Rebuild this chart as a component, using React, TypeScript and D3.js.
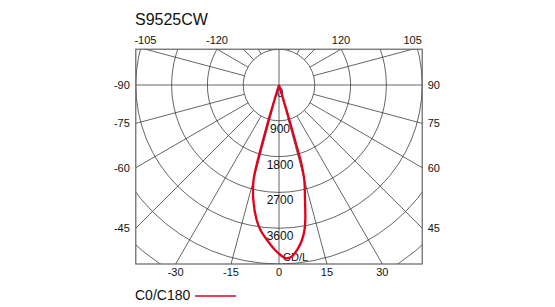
import React from "react";
import * as d3 from "d3";

const TITLE = "S9525CW";
const ringValues = [0, 900, 1800, 2700, 3600];
const unitLabel = "CD/L";
const legendLabel = "C0/C180";
const angleLabels = [-120, -105, -90, -75, -60, -45, -30, -15, 0, 15, 30, 45, 60, 75, 90, 105, 120];
// C0/C180 curve, in drawing order (apex -> left flank -> bottom -> right flank -> apex)
const curveAngles = [0, -16.8, -16.3, -16, -15.7, -15, -12.6, -9.4, -7.27, -4.43, -1.39, 0.51, 2.31, 4.16, 6.23, 8.44, 9.97, 11.02, 12.74, 14.9, 15.9, 16.1, 16.3, 16.6, 0];
const curveValues = [0, 750, 1180, 1610, 2050, 2470, 2960, 3440, 3675, 3909, 4149, 4274, 4360, 4331, 4173, 3939, 3701, 3458, 2964, 2470, 2050, 1610, 1180, 740, 0];

const W = 555;
const H = 307;
const cx = 279;
const cy = 85;
const step = 35.8;
const left = cx - 4 * step;
const right = cx + 4 * step;
const top = cy - step;
const bottom = cy + 5 * step;

const rScale = d3.scaleLinear().domain([0, 900]).range([0, step]);
const FONT = "'Liberation Sans', Arial, Helvetica, sans-serif";
const GRID = "#333";

function pt(gDeg: number, r: number): [number, number] {
  const a = (gDeg * Math.PI) / 180;
  return [cx + r * Math.sin(a), cy + r * Math.cos(a)];
}

export default function App() {
  const rings = d3.range(1, 7).map((k) => rScale(k * 900));
  const radials = d3.range(0, 360, 15).map((deg) => {
    const full = deg % 90 === 0 || deg === 15 || deg === 345;
    const r0 = full ? 0 : rScale(900);
    const p0 = pt(deg, r0);
    const p1 = pt(deg, 400);
    return { deg, p0, p1 };
  });

  const labelPos = angleLabels.map((g) => {
    const a = (g * Math.PI) / 180;
    const dx = Math.sin(a);
    const dy = Math.cos(a);
    const tx = dx > 1e-9 ? (right - cx) / dx : dx < -1e-9 ? (left - cx) / dx : Infinity;
    const ty = dy > 1e-9 ? (bottom - cy) / dy : dy < -1e-9 ? (top - cy) / dy : Infinity;
    if (tx < ty) {
      const y = cy + tx * dy;
      if (dx > 0) return { g, x: right + 5.5, y: y + 4, anchor: "start" };
      return { g, x: left - 6, y: y + 4, anchor: "end" };
    }
    const x = cx + ty * dx;
    if (dy > 0) return { g, x, y: bottom + 12, anchor: "middle" };
    return { g, x, y: top - 5, anchor: "middle" };
  });

  const pts: [number, number][] = curveAngles.map((g, i) => pt(g, rScale(curveValues[i])));
  const line = d3.line<[number, number]>().curve(d3.curveCatmullRom.alpha(0.5));
  const curvePath = line(pts) || "";

  return (
    <svg width={W} height={H} style={{ position: "absolute", left: 0, top: 0, background: "#fff" }}>
      <defs>
        <clipPath id="box">
          <rect x={left} y={top} width={right - left} height={bottom - top} />
        </clipPath>
      </defs>
      <text x={135} y={25} fontFamily={FONT} fontSize={16} fill="#111">{TITLE}</text>
      <g clipPath="url(#box)">
        {rings.map((r, i) => (
          <circle key={i} cx={cx} cy={cy} r={r} fill="none" stroke={GRID} strokeWidth={0.75} />
        ))}
        {radials.map((l) => (
          <line key={l.deg} x1={l.p0[0]} y1={l.p0[1]} x2={l.p1[0]} y2={l.p1[1]} stroke={GRID} strokeWidth={0.75} />
        ))}
      </g>
      <rect x={left} y={top} width={right - left} height={bottom - top} fill="none" stroke="#555" strokeWidth={1.1} />
      {labelPos.map((l) => (
        <text key={l.g} x={l.x} y={l.y} textAnchor={l.anchor as any} fontFamily={FONT} fontSize={11} fill="#111">{l.g}</text>
      ))}
      {ringValues.map((v) => (
        <text key={v} x={cx + 1} y={cy + rScale(v) + 12} textAnchor="middle" fontFamily={FONT} fontSize={12} fill="#111">{v}</text>
      ))}
      <text x={cx + 4} y={cy + rScale(4500) - 3} fontFamily={FONT} fontSize={11} fill="#111">{unitLabel}</text>
      <path d={curvePath} fill="none" stroke="#e2001a" strokeWidth={2.3} strokeLinejoin="round" />
      <text x={135} y={300} fontFamily={FONT} fontSize={14} fill="#111">{legendLabel}</text>
      <line x1={195} y1={296} x2={236} y2={296} stroke="#e2001a" strokeWidth={1.3} />
    </svg>
  );
}
